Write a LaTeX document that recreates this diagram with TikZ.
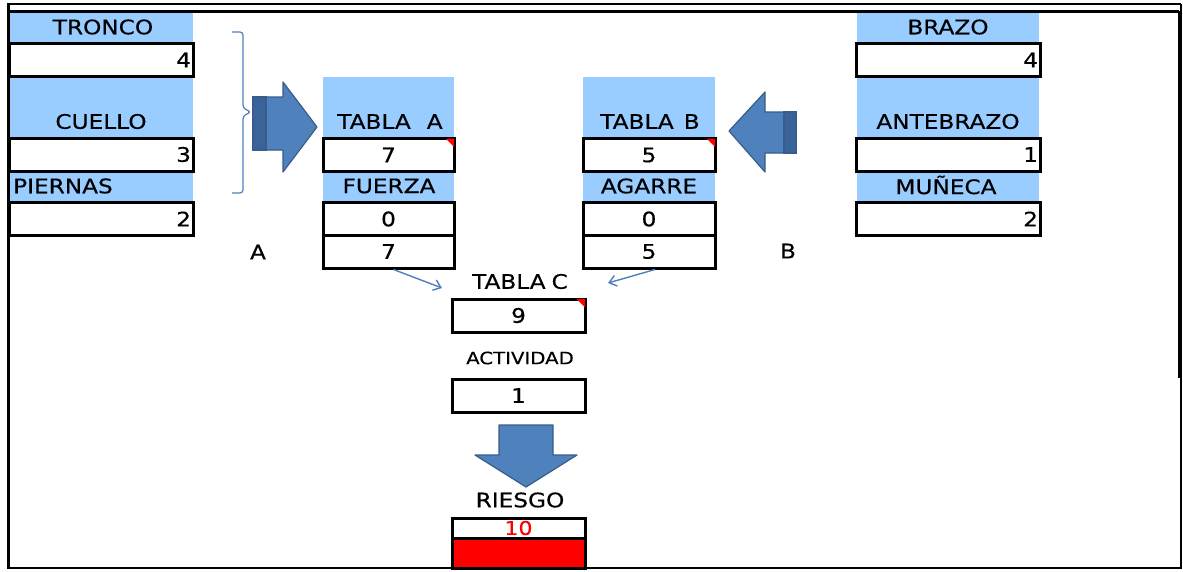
\documentclass[tikz,border=0pt]{standalone}
\usepackage{fontspec}
\setmainfont{DejaVu Sans}[FakeStretch=1.16,FakeBold=0.4]
\usetikzlibrary{arrows.meta}
\definecolor{hblue}{HTML}{99CCFF}
\definecolor{abfill}{HTML}{4F81BD}
\definecolor{abdark}{HTML}{3A639A}
\definecolor{abline}{HTML}{385D8A}
\newcommand{\bigtxt}{\fontsize{20}{23}\selectfont}
\newcommand{\smtxt}{\fontsize{17}{20}\selectfont}
\tikzset{
  vb/.style={draw=black, line width=3pt, fill=white, inner sep=0pt, minimum height=33pt, font=\bigtxt},
  sidebox/.style={vb, text width=180pt, inner xsep=2pt, align=right},
  midbox/.style={vb, minimum width=#1},
  hd/.style={inner sep=0pt, font=\bigtxt},
  con/.style={draw=abfill, line width=1.4pt, -{Straight Barb[length=7pt,width=11pt]}},
  bigarrow/.style={fill=abfill, draw=abline, line width=1.2pt, line join=round},
  darkside/.style={fill=abdark, draw=abline, line width=1.2pt},
  flag/.style={fill=red}
}
\begin{document}
\begin{tikzpicture}[x=1pt,y=-1pt]
\useasboundingbox (0,0) rectangle (1183,571);
\fill[white] (0,0) rectangle (1183,571);
% outer frame
\draw[line width=1.4pt] (7,4) -- (1181,4);
\draw[line width=2.4pt] (9,11.5) -- (1179,11.5);
\draw[line width=3.2pt] (8.5,3.5) -- (8.5,568);
\draw[line width=1.4pt] (1181,4) -- (1181,568);
\draw[line width=3pt] (1179,11) -- (1179,378);
\draw[line width=2.4pt] (7,568) -- (1182,568);
% blue columns
\fill[hblue] (10,13) rectangle (193,203);
\fill[hblue] (857,13) rectangle (1039,203);
\fill[hblue] (323,77) rectangle (454,203);
\fill[hblue] (583,77) rectangle (715,203);
% left column
\node[hd] (tronco) at (103,27) {TRONCO};
\node[sidebox] (tv) at (101,60) {4};
\node[hd] (cuello) at (101,121.5) {CUELLO};
\node[sidebox] (cv) at (101,154.5) {3};
\node[hd, anchor=west] (piernas) at (13,186) {PIERNAS};
\node[sidebox] (pv) at (101,219) {2};
% right column
\node[hd] (brazo) at (948,27) {BRAZO};
\node[sidebox] (bv) at (948,60) {4};
\node[hd] (antebrazo) at (948,121.5) {ANTEBRAZO};
\node[sidebox] (av) at (948,154.5) {1};
\node[hd] (muneca) at (946,185) {MUÑECA};
\node[sidebox] (mv) at (948,219) {2};
% tabla A
\node[hd] (tabA) at (390,121.5) {TABLA\hspace{16pt}A};
\node[midbox=131pt] (aval) at (388.5,155) {7};
\fill[flag] ([xshift=-10pt,yshift=-1.5pt]aval.north east) -- ([xshift=-1.5pt,yshift=-1.5pt]aval.north east) -- ([xshift=-1.5pt,yshift=-10pt]aval.north east) -- cycle;
\node[hd] (fuerza) at (389,186) {FUERZA};
\node[midbox=131pt] (fval) at (388.5,219) {0};
\node[midbox=131pt] (atot) at (388.5,251.5) {7};
% tabla B
\node[hd] (tabB) at (650,121.5) {TABLA\hspace{10pt}B};
\node[midbox=132pt] (bvalB) at (649,155) {5};
\fill[flag] ([xshift=-10pt,yshift=-1.5pt]bvalB.north east) -- ([xshift=-1.5pt,yshift=-1.5pt]bvalB.north east) -- ([xshift=-1.5pt,yshift=-10pt]bvalB.north east) -- cycle;
\node[hd] (agarre) at (649,186) {AGARRE};
\node[midbox=132pt] (gval) at (649,219) {0};
\node[midbox=132pt] (btot) at (649,251.5) {5};
% labels A / B
\node[hd] (labA) at (258,252) {A};
\node[hd] (labB) at (788,251) {B};
% brace
\draw[abfill, line width=1.2pt, rounded corners=3pt] (232,32) -- (243,32) -- (243,108) -- (251,112) -- (243,116) -- (243,193) -- (232,193);
% big right arrow
\draw[bigarrow] (253,97) -- (283,97) -- (283,82) -- (317,127) -- (283,172) -- (283,150) -- (253,150) -- cycle;
\draw[darkside] (253,97) rectangle (266,150);
% big left arrow
\draw[bigarrow] (796,112) -- (765,112) -- (765,92) -- (729,131) -- (765,172) -- (765,153) -- (796,153) -- cycle;
\draw[darkside] (784,112) rectangle (796,153);
% tabla C
\node[hd] (tabC) at (520,281.5) {TABLA\hspace{6pt}C};
\node[midbox=133pt] (cval) at (518.5,315.5) {9};
\fill[flag] ([xshift=-10pt,yshift=-1.5pt]cval.north east) -- ([xshift=-1.5pt,yshift=-1.5pt]cval.north east) -- ([xshift=-1.5pt,yshift=-10pt]cval.north east) -- cycle;
\draw[con] ([xshift=5pt]atot.south) -- ([xshift=-30pt,yshift=-6.5pt]tabC.west);
\draw[con] ([xshift=6pt]btot.south) -- ([xshift=40pt,yshift=-1.5pt]tabC.east);
% actividad
\node[inner sep=0pt, font=\smtxt] (act) at (520,358) {ACTIVIDAD};
\node[midbox=133pt] (actv) at (518.5,395.5) {1};
% down arrow
\draw[bigarrow] (499,425) -- (553,425) -- (553,455) -- (577,455) -- (526,487) -- (475,455) -- (499,455) -- cycle;
% riesgo
\node[hd] (riesgo) at (520,500) {RIESGO};
\node[vb, minimum width=133pt, minimum height=20pt, text=red, font=\fontsize{19}{20}\selectfont] (rval) at (518.5,528) {10};
\node[vb, minimum width=133pt, minimum height=30pt, fill=red] (rbar) at (518.5,553) {};
\end{tikzpicture}
\end{document}
